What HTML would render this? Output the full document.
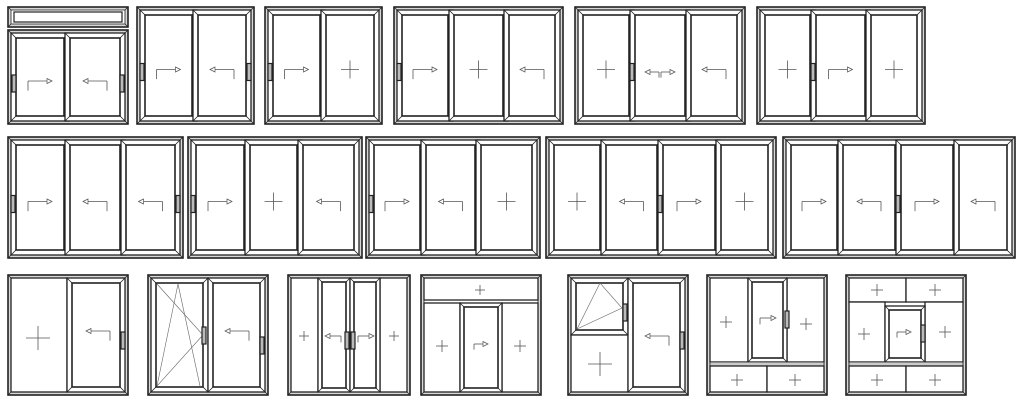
<!DOCTYPE html>
<html><head><meta charset="utf-8"><style>html,body{margin:0;padding:0;background:#fff;width:1024px;height:402px;overflow:hidden}</style></head>
<body>
<svg id="s" width="1024" height="402" xmlns="http://www.w3.org/2000/svg" fill="none" stroke="#222"></svg>
<script>
const s=document.getElementById('s');let o='';
function r(x1,y1,x2,y2,w,f){o+=`<rect x="${x1}" y="${y1}" width="${x2-x1}" height="${y2-y1}" stroke-width="${w}" fill="${f||'none'}"/>`;}
function l(a,b,c,d,w,col){o+=`<line x1="${a}" y1="${b}" x2="${c}" y2="${d}" stroke-width="${w||0.8}" ${col?`stroke="${col}"`:''}/>`;}
function F(x1,y1,x2,y2){r(x1,y1,x2,y2,1.6,'#d8d8d8');r(x1+3,y1+3,x2-3,y2-3,0.8,'#fff');l(x1,y1,x1+3,y1+3);l(x2,y1,x2-3,y1+3);l(x1,y2,x1+3,y2-3);l(x2,y2,x2-3,y2-3);}
function P(x1,y1,x2,y2,k){k=k||5;r(x1,y1,x2,y2,1.3,'#fff');r(x1+k,y1+k,x2-k,y2-k,1.6);l(x1,y1,x1+k,y1+k);l(x2,y1,x2-k,y1+k);l(x1,y2,x1+k,y2-k);l(x2,y2,x2-k,y2-k);}
function plus(cx,cy,h){l(cx-h,cy,cx+h,cy,0.8,'#555');l(cx,cy-h,cx,cy+h,0.8,'#555');}
function ar(cx,cy,dir,w){w=w||12;let a=cx-dir*w,b=cx+dir*w;l(a,cy,b,cy,0.8,'#555');l(a,cy,a,cy+w*0.8,0.8,'#555');o+=`<path d="M${b} ${cy} L${b-dir*5} ${cy-2.5} L${b-dir*5} ${cy+2.5}Z" stroke-width="0.7" stroke="#555" fill="#fff"/>`;}
function H(x,cy){o+=`<rect x="${x-2}" y="${cy-8}" width="4" height="17" stroke-width="1.2" fill="#bbb"/>`;}
function row(x1,x2,y1,y2,splits,syms,handles){F(x1,y1,x2,y2);let xs=[x1+3,...splits,x2-3];for(let i=0;i<xs.length-1;i++){let a=xs[i]+(i?-2:0),b=xs[i+1]+(i<xs.length-2?2:0);P(a,y1+3,b,y2-3);let cx=(a+b)/2,cy=(y1+y2)/2+4,sy=syms[i];if(sy=='R')ar(cx,cy,1);else if(sy=='L')ar(cx,cy,-1);else if(sy=='X')plus(cx,cy,9);}(handles||[]).forEach(h=>H(h,(y1+y2)/2+6));}
// Row 1
F(8,7,128,27);r(14,12,122,22,1.2);
row(8,128,30,124,[67],['R','L'],[14,122]);
row(137,254,7,124,[195],['R','L'],[142,249]);
row(265,382,7,124,[323],['R','X'],[270]);
row(394,563,7,124,[451,506],['R','X','L'],[399]);
row(575,745,7,124,[632,688],['X','LR','L'],[632]);
ar(652,72,-1,7);ar(668,72,1,7);
row(757,925,7,124,[813,868],['X','R','X'],[813]);
// Row 2
row(8,183,137,258,[67,123],['R','L','L'],[13,178]);
row(188,362,137,258,[247,300],['R','X','L'],[193]);
row(366,540,137,258,[423,478],['R','L','X'],[371]);
row(546,776,137,258,[603,660,718],['X','L','R','X'],[660]);
row(783,1015,137,258,[840,898,956],['R','L','R','L'],[898]);
// Row 3
F(8,275,128,395);r(11,278,67,392,1.3,'#fff');plus(38,338,12);P(67,278,125,392);ar(98,331,-1);H(123,340);
F(148,275,268,395);P(151,278,208,392);o+=`<path d="M157 284 L203 335 L157 386 M157 386 L178 284 L200 386" stroke-width="0.6" stroke="#666"/>`;H(204,335);P(208,278,265,392);ar(237,331,-1);H(262,345);
F(288,275,410,395);r(291,278,318,392,1.3,'#fff');r(380,278,407,392,1.3,'#fff');P(318,278,350,392,4);P(350,278,380,392,4);plus(304,336,5);plus(394,336,5);ar(333,336,-1,8);ar(366,336,1,8);H(347,340);H(353,340);
F(421,275,541,395);r(424,278,538,300,1.3,'#fff');plus(480,290,5);r(424,303,460,392,1.3,'#fff');r(502,303,538,392,1.3,'#fff');P(460,303,502,392,4);plus(442,346,6);plus(520,346,6);ar(481,344,1,7);
F(568,275,688,395);P(571,278,628,335);o+=`<path d="M577 329 L622 308 L600 283 L577 329" stroke-width="0.6" stroke="#666"/>`;H(625,312);r(571,335,628,392,1.3,'#fff');plus(600,364,12);P(628,278,685,392);ar(657,336,-1);H(682,340);
F(707,275,827,395);r(710,278,748,362,1.3,'#fff');r(787,278,824,362,1.3,'#fff');P(748,278,787,362,4);plus(726,322,6);plus(806,324,6);ar(768,318,1,8);H(787,319);r(710,362,824,366,0.8,'#ccc');r(710,366,767,392,1.3,'#fff');r(767,366,824,392,1.3,'#fff');plus(737,380,6);plus(795,380,6);
F(846,275,966,395);r(849,278,906,302,1.3,'#fff');r(906,278,963,302,1.3,'#fff');plus(877,290,6);plus(935,290,6);r(849,302,885,362,1.3,'#fff');r(925,302,963,362,1.3,'#fff');P(885,306,925,362,4);plus(864,334,6);plus(945,332,6);ar(904,332,1,7);H(923,333);r(849,362,963,366,0.8,'#ccc');r(849,366,906,392,1.3,'#fff');r(906,366,963,392,1.3,'#fff');plus(877,380,6);plus(935,380,6);
s.innerHTML=o;
</script>
</body></html>
